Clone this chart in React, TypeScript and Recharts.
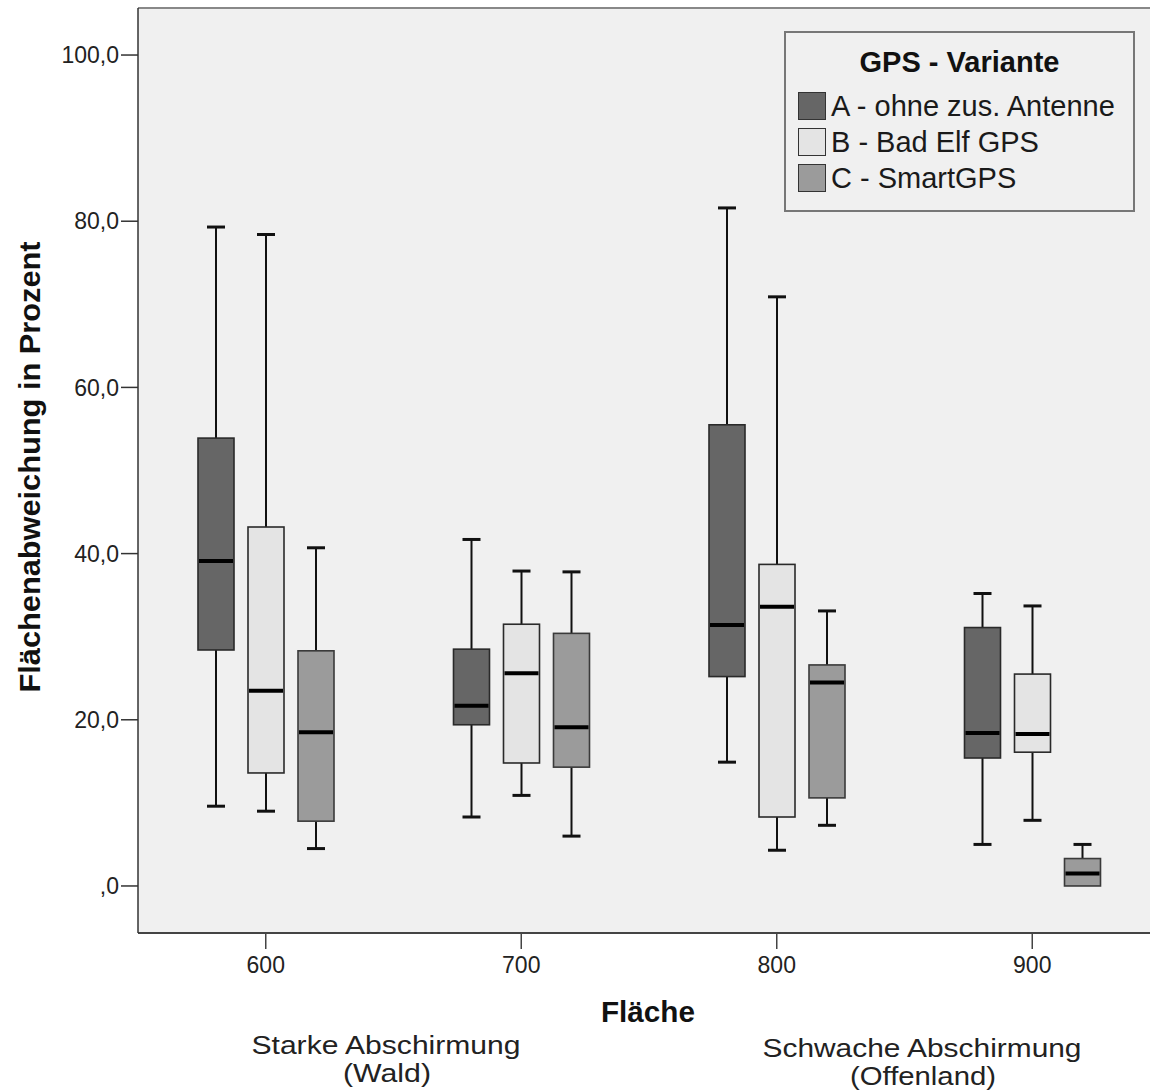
import React from 'react';
import { ComposedChart, Bar, XAxis, YAxis, CartesianGrid, Legend, ReferenceLine } from 'recharts';

const FONT = '"Liberation Sans", Arial, sans-serif';

const categories = ['600', '700', '800', '900'];
const yTicks = [0, 20, 40, 60, 80, 100];

// five-number summaries per Fläche: min, q1, median, q3, max
const seriesA = [
  { min: 9.6, q1: 28.4, median: 39.1, q3: 53.9, max: 79.3 },
  { min: 8.3, q1: 19.4, median: 21.7, q3: 28.5, max: 41.7 },
  { min: 14.9, q1: 25.2, median: 31.4, q3: 55.5, max: 81.6 },
  { min: 5.0, q1: 15.4, median: 18.4, q3: 31.1, max: 35.2 },
];
const seriesB = [
  { min: 9.0, q1: 13.6, median: 23.5, q3: 43.2, max: 78.4 },
  { min: 10.9, q1: 14.8, median: 25.6, q3: 31.5, max: 37.9 },
  { min: 4.3, q1: 8.3, median: 33.6, q3: 38.7, max: 70.9 },
  { min: 7.9, q1: 16.1, median: 18.3, q3: 25.5, max: 33.7 },
];
const seriesC = [
  { min: 4.5, q1: 7.8, median: 18.5, q3: 28.3, max: 40.7 },
  { min: 6.0, q1: 14.3, median: 19.1, q3: 30.4, max: 37.8 },
  { min: 7.3, q1: 10.6, median: 24.5, q3: 26.6, max: 33.1 },
  { min: 0.0, q1: 0.0, median: 1.5, q3: 3.3, max: 5.0 },
];

const series = [
  { key: 'A', name: 'A - ohne zus. Antenne', fill: '#666666', stroke: '#2a2a2a' },
  { key: 'B', name: 'B - Bad Elf GPS', fill: '#e4e4e4', stroke: '#2a2a2a' },
  { key: 'C', name: 'C - SmartGPS', fill: '#9b9b9b', stroke: '#3a3a3a' },
];

const rows = categories.map((c, i) => ({ name: c, A: seriesA[i], B: seriesB[i], C: seriesC[i] }));

const BoxShape = (props: any) => {
  const { x, y, width, height, stats, fill, stroke } = props;
  if (!stats) return null;
  const top = Math.min(y, y + height);
  const bottom = Math.max(y, y + height);
  const span = stats.max - stats.min || 1;
  const py = (v: number) => top + ((stats.max - v) / span) * (bottom - top);
  const cx = x + width / 2;
  const cap = width / 2;
  return (
    <g>
      {stats.max > stats.q3 && (
        <>
          <line x1={cx} x2={cx} y1={py(stats.max)} y2={py(stats.q3)} stroke="#111" strokeWidth={2} />
          <line x1={cx - cap / 2} x2={cx + cap / 2} y1={py(stats.max)} y2={py(stats.max)} stroke="#111" strokeWidth={3} />
        </>
      )}
      {stats.min < stats.q1 && (
        <>
          <line x1={cx} x2={cx} y1={py(stats.q1)} y2={py(stats.min)} stroke="#111" strokeWidth={2} />
          <line x1={cx - cap / 2} x2={cx + cap / 2} y1={py(stats.min)} y2={py(stats.min)} stroke="#111" strokeWidth={3} />
        </>
      )}
      <rect x={x} y={py(stats.q3)} width={width} height={py(stats.q1) - py(stats.q3)} fill={fill} stroke={stroke} strokeWidth={1.6} />
      <line x1={x + 1} x2={x + width - 1} y1={py(stats.median)} y2={py(stats.median)} stroke="#000" strokeWidth={4} />
    </g>
  );
};

const LegendBox = () => (
  <div style={{ position: 'relative', width: 351, height: 181, boxSizing: 'border-box', border: '2px solid #777', background: '#f0f0f0', fontFamily: FONT, color: '#111' }}>
    <div style={{ position: 'absolute', left: 0, right: 0, top: 12, textAlign: 'center', fontWeight: 'bold', fontSize: 29, lineHeight: '34px' }}>GPS - Variante</div>
    {series.map((s, i) => (
      <div key={s.key} style={{ position: 'absolute', left: 12, top: 57 + i * 36, height: 32, display: 'flex', alignItems: 'center' }}>
        <span style={{ display: 'inline-block', width: 26, height: 26, background: s.fill, border: '1.5px solid #333', marginRight: 5 }} />
        <span style={{ fontSize: 29, lineHeight: '32px', whiteSpace: 'nowrap', color: '#1a1a1a' }}>{s.name}</span>
      </div>
    ))}
  </div>
);

const fmt = (v: number) => (v === 0 ? ',0' : `${v},0`);

const YLabel = () => (
  <text x={30} y={467} transform="rotate(-90 30 467)" textAnchor="middle" dominantBaseline="central" fontFamily={FONT} fontSize={29} fontWeight="bold" fill="#111" textLength={451} lengthAdjust="spacingAndGlyphs">
    Flächenabweichung in Prozent
  </text>
);

const sub = { textAnchor: 'middle' as const, dominantBaseline: 'central' as const, fontSize: 26, fill: '#222', lengthAdjust: 'spacingAndGlyphs' as const };

const XLabel = () => (
  <g fontFamily={FONT} fill="#111">
    <text x={648} y={1012} textAnchor="middle" dominantBaseline="central" fontSize={29} fontWeight="bold" textLength={94} lengthAdjust="spacingAndGlyphs">Fläche</text>
    <text x={386} y={1045} {...sub} textLength={269}>Starke Abschirmung</text>
    <text x={387} y={1073} {...sub} textLength={88}>(Wald)</text>
    <text x={922} y={1048} {...sub} textLength={319}>Schwache Abschirmung</text>
    <text x={923} y={1076} {...sub} textLength={146}>(Offenland)</text>
  </g>
);

export default function App() {
  return (
    <div style={{ position: 'fixed', left: 0, top: 0, width: 1150, height: 1092, overflow: 'hidden', background: '#fff' }}>
      <ComposedChart width={1160} height={1092} data={rows} margin={{ top: 8, right: 0, bottom: 0, left: 0 }} barSize={36} barGap={14}>
        <CartesianGrid horizontal={false} vertical={false} fill="#f0f0f0" />
        <ReferenceLine y={105.66} stroke="#888" strokeWidth={2} />
        <XAxis
          dataKey="name"
          height={159}
          tickSize={16}
          tickMargin={8}
          axisLine={{ stroke: '#444', strokeWidth: 2 }}
          tickLine={{ stroke: '#444', strokeWidth: 1.5 }}
          tick={{ fontFamily: FONT, fontSize: 23, fill: '#222' }}
          label={{ content: () => <XLabel /> }}
        />
        <YAxis
          width={138}
          domain={[-5.66, 105.66]}
          ticks={yTicks}
          tickFormatter={fmt}
          tickSize={17}
          tickMargin={2}
          axisLine={{ stroke: '#333', strokeWidth: 1.5 }}
          tickLine={{ stroke: '#333', strokeWidth: 1.5 }}
          tick={{ fontFamily: FONT, fontSize: 23, fill: '#222' }}
          label={{ content: () => <YLabel /> }}
        />
        <Legend layout="vertical" align="center" verticalAlign="middle" wrapperStyle={{ left: 784, top: 31, width: 351, height: 181 }} content={() => <LegendBox />} />
        {series.map((s) => (
          <Bar
            key={s.key}
            name={s.name}
            dataKey={(d: any) => [d[s.key].min, d[s.key].max]}
            fill={s.fill}
            isAnimationActive={false}
            shape={(p: any) => <BoxShape {...p} stats={p.payload[s.key]} fill={s.fill} stroke={s.stroke} />}
          />
        ))}
      </ComposedChart>
    </div>
  );
}
